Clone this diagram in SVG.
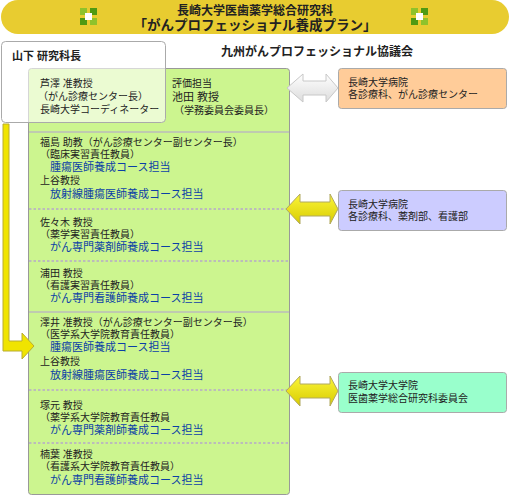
<svg xmlns="http://www.w3.org/2000/svg" width="510" height="500" viewBox="0 0 510 500">
<defs>
<style>
text{font-family:"Liberation Sans","Noto Sans CJK JP",sans-serif;fill:#222;}
.t{font-size:10px;}
.b{font-size:11px;fill:#0b3fa6;}
.h{font-size:10px;}
.sep{stroke:#bbb;stroke-width:1.5;}
.dot{stroke:#bbb;stroke-width:2;stroke-dasharray:2.5,2;}
</style>
<linearGradient id="gw" x1="0" y1="0" x2="0" y2="1"><stop offset="0" stop-color="#ffffff"/><stop offset="1" stop-color="#dcdcdc"/></linearGradient>
<linearGradient id="gy" x1="0" y1="0" x2="0" y2="1"><stop offset="0" stop-color="#fbf53a"/><stop offset="1" stop-color="#d8cc00"/></linearGradient>
<g id="deco"><rect x="0" y="0" width="7" height="7" fill="#8fc22b"/><rect x="10" y="0" width="7" height="7" fill="#4f9a12"/><rect x="0" y="10" width="7" height="7" fill="#4f9a12"/><rect x="10" y="10" width="7" height="7" fill="#8fc22b"/><rect x="5" y="5" width="7" height="7" fill="#ffffff"/></g>
</defs>
<rect width="510" height="500" fill="#ffffff"/>
<g id="title">
<rect x="1" y="0" width="508" height="34" rx="17" fill="#e8cc30"/>
<use href="#deco" x="80" y="8"/>
<use href="#deco" x="411" y="8"/>
<text x="255" y="15" text-anchor="middle" style="font-size:12px;font-weight:bold">長崎大学医歯薬学総合研究科</text>
<text x="255" y="30" text-anchor="middle" style="font-size:13.5px;font-weight:bold">「がんプロフェッショナル養成プラン」</text>
</g>
<text x="317" y="56" text-anchor="middle" style="font-size:12px;font-weight:bold">九州がんプロフェッショナル協議会</text>
<g id="council">
<rect x="28.5" y="68.5" width="261" height="426" rx="3" fill="#ccf58f" stroke="#999"/>
<line class="sep" x1="29" y1="132" x2="289" y2="132"/>
<line class="dot" x1="29" y1="209" x2="289" y2="209"/>
<line class="dot" x1="29" y1="261" x2="289" y2="261"/>
<line class="sep" x1="29" y1="312" x2="289" y2="312"/>
<line class="dot" x1="29" y1="390" x2="289" y2="390"/>
<line class="dot" x1="29" y1="443" x2="289" y2="443"/>
</g>
<g id="dean">
<rect x="1.5" y="41.5" width="164" height="81" rx="4" fill="#ffffff" fill-opacity="0.6" stroke="#aaa"/>
<text x="12" y="60" style="font-size:11px;font-weight:bold">山下 研究科長</text>
</g>
<g id="sec1">
<text class="t" x="40" y="87">芦澤 准教授</text>
<text class="t" x="38" y="100">（がん診療センター長）</text>
<text class="t" x="40" y="113">長崎大学コーディネーター</text>
<text class="t" x="172" y="87">評価担当</text>
<text x="172" y="101" style="font-size:11px">池田 教授</text>
<text class="t" x="174" y="114">（学務委員会委員長）</text>
</g>
<g id="sec2">
<text class="t" x="40" y="146">福島 助教（がん診療センター副センター長）</text>
<text class="t" x="40" y="158">（臨床実習責任教員）</text>
<text class="b" x="50" y="171">腫瘍医師養成コース担当</text>
<text class="t" x="40" y="184">上谷教授</text>
<text class="b" x="50" y="198">放射線腫瘍医師養成コース担当</text>
</g>
<g id="sec3">
<text class="t" x="40" y="226">佐々木 教授</text>
<text class="t" x="40" y="238">（薬学実習責任教員）</text>
<text class="b" x="50" y="251">がん専門薬剤師養成コース担当</text>
</g>
<g id="sec4">
<text class="t" x="40" y="277">浦田 教授</text>
<text class="t" x="40" y="289">（看護実習責任教員）</text>
<text class="b" x="50" y="302">がん専門看護師養成コース担当</text>
</g>
<g id="sec5">
<text class="t" x="40" y="326">澤井 准教授（がん診療センター副センター長）</text>
<text class="t" x="40" y="338">（医学系大学院教育責任教員）</text>
<text class="b" x="50" y="351">腫瘍医師養成コース担当</text>
<text class="t" x="40" y="365">上谷教授</text>
<text class="b" x="50" y="379">放射線腫瘍医師養成コース担当</text>
</g>
<g id="sec6">
<text class="t" x="40" y="409">塚元 教授</text>
<text class="t" x="40" y="421">（薬学系大学院教育責任教員</text>
<text class="b" x="50" y="434">がん専門薬剤師養成コース担当</text>
</g>
<g id="sec7">
<text class="t" x="40" y="458">楠葉 准教授</text>
<text class="t" x="40" y="470">（看護系大学院教育責任教員）</text>
<text class="b" x="50" y="484">がん専門看護師養成コース担当</text>
</g>
<g id="hospital1">
<rect x="338.5" y="68.5" width="168" height="40" rx="3" fill="#ffcc99" stroke="#aaa"/>
<text class="h" x="348" y="86">長崎大学病院</text>
<text class="h" x="348" y="98">各診療科、がん診療センター</text>
</g>
<g id="hospital2">
<rect x="338.5" y="190.5" width="168" height="40" rx="3" fill="#ccccff" stroke="#aaa"/>
<text class="h" x="348" y="208">長崎大学病院</text>
<text class="h" x="348" y="220">各診療科、薬剤部、看護部</text>
</g>
<g id="gradschool">
<rect x="338.5" y="372.5" width="168" height="40" rx="3" fill="#99ffcc" stroke="#aaa"/>
<text class="h" x="348" y="389">長崎大学大学院</text>
<text class="h" x="348" y="402">医歯薬学総合研究科委員会</text>
</g>
<g id="connectors">
<path d="M287,88 L303,74 L303,81 L326,81 L326,74 L338,88 L326,102 L326,95 L303,95 L303,102 Z" fill="url(#gw)" stroke="#c8c8c8"/>
<path d="M286,209 L300,194 L300,202 L330,202 L330,194 L338,209 L330,224 L330,216 L300,216 L300,224 Z" fill="url(#gy)" stroke="#b0a860"/>
<path d="M286,391 L300,376 L300,384 L330,384 L330,376 L338,391 L330,406 L330,398 L300,398 L300,406 Z" fill="url(#gy)" stroke="#b0a860"/>
<path d="M3,124 L9,124 L9,341 L22,341 L22,333 L34,346 L22,359 L22,351 L3,351 Z" fill="#f0e400" stroke="#b8ac30"/>
</g>
</svg>
